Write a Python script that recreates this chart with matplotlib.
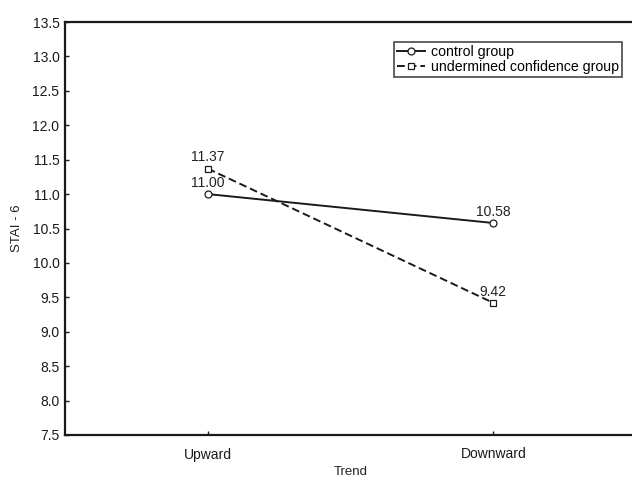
import numpy as np
import matplotlib
matplotlib.use('Agg')
import matplotlib.pyplot as plt

plt.rcParams['font.family'] = ['Liberation Sans', 'DejaVu Sans']

trend = ['Upward', 'Downward']
control = [11.00, 10.58]
undermined = [11.37, 9.42]
y_ticks = np.arange(7.5, 13.51, 0.5)

fig = plt.figure(figsize=(6.32, 4.79), dpi=100)
ax = fig.add_axes([65/632, 1 - 435/479, (636 - 65)/632, (435 - 22)/479])

x = np.arange(len(trend))
ax.plot(x, control, color='#1a1a1a', linestyle='-', linewidth=1.4,
        marker='o', markersize=5, markerfacecolor='white', markeredgewidth=0.9,
        label='control group')
ax.plot(x, undermined, color='#1a1a1a', linestyle='--', dashes=(4, 2), linewidth=1.4,
        marker='s', markersize=5, markerfacecolor='white', markeredgewidth=0.9,
        label='undermined confidence group')

for xi, v in zip(x, control):
    ax.annotate('%.2f' % v, (xi, v), xytext=(0, 3), textcoords='offset points',
                ha='center', va='bottom', fontsize=10, color='#222222')
for xi, v in zip(x, undermined):
    ax.annotate('%.2f' % v, (xi, v), xytext=(0, 3), textcoords='offset points',
                ha='center', va='bottom', fontsize=10, color='#222222')

ax.set_xlim(-0.5, 1.5)
ax.set_ylim(7.5, 13.5)
ax.set_xticks(x)
ax.set_xticklabels(trend)
ax.set_yticks(y_ticks)
ax.set_yticklabels(['%.1f' % t for t in y_ticks])
ax.tick_params(direction='in', length=3, width=1, labelsize=10, colors='#1a1a1a',
               right=True, top=False, pad=4)
ax.tick_params(axis='x', pad=9)
for s in ax.spines.values():
    s.set_linewidth(1.6)
    s.set_color('#1a1a1a')

ax.set_xlabel('Trend', fontsize=9.5, color='#222222', labelpad=3)
ax.set_ylabel('STAI - 6', fontsize=9.5, color='#222222', labelpad=7)

leg = ax.legend(loc='upper right', fontsize=10.2,
                frameon=True, fancybox=False, handlelength=2.0, handletextpad=0.4,
                borderpad=0.2, labelspacing=0.08, borderaxespad=0)
leg.set_bbox_to_anchor((622/632, 1 - 42/479), transform=fig.transFigure)
leg.get_frame().set_edgecolor('#1a1a1a')
leg.get_frame().set_linewidth(1.2)

fig.savefig('out.png', dpi=100)
